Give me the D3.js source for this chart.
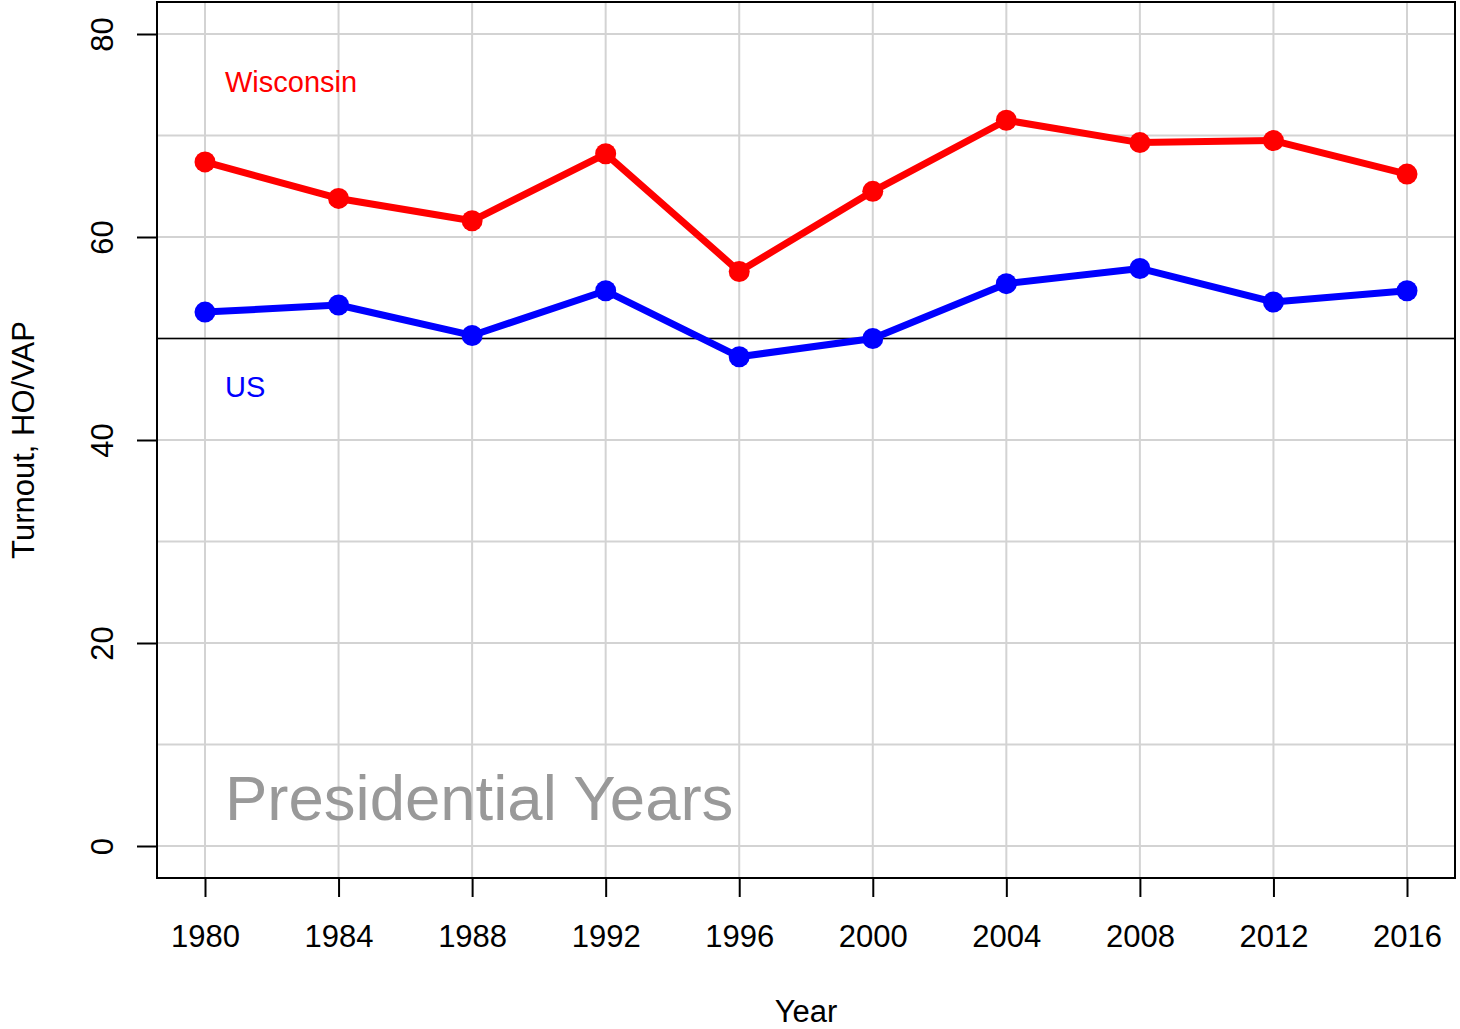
<!DOCTYPE html>
<html>
<head>
<meta charset="utf-8">
<script src="https://cdn.jsdelivr.net/npm/d3@7"></script>
<style>
  body { margin: 0; background: #fff; }
  text { font-family: "Liberation Sans", Arial, sans-serif; }
</style>
</head>
<body>
<svg id="chart"></svg>
<script>
var years = [1980, 1984, 1988, 1992, 1996, 2000, 2004, 2008, 2012, 2016];
var wisconsin = [67.4, 63.8, 61.6, 68.2, 56.6, 64.5, 71.5, 69.3, 69.5, 66.2];
var us = [52.6, 53.3, 50.3, 54.7, 48.2, 50.0, 55.4, 56.9, 53.6, 54.7];
var yTicks = [0, 20, 40, 60, 80];
var yGrid = [0, 10, 20, 30, 40, 50, 60, 70, 80];

var W = 1460, H = 1029;
var L = 157, R = 1455, T = 2, B = 878;

var svg = d3.select("#chart")
    .attr("width", W)
    .attr("height", H);

var x = d3.scaleLinear()
    .domain([1980, 2016])
    .range([205, 1407]);

var y = d3.scaleLinear()
    .domain([0, 80])
    .range([846, 34]);

// grid
svg.append("g").selectAll("line.vg")
    .data(years).enter().append("line")
    .attr("x1", d => x(d)).attr("x2", d => x(d))
    .attr("y1", T).attr("y2", B)
    .attr("stroke", "#d3d3d3").attr("stroke-width", 2);
svg.append("g").selectAll("line.hg")
    .data(yGrid).enter().append("line")
    .attr("x1", L).attr("x2", R)
    .attr("y1", d => y(d)).attr("y2", d => y(d))
    .attr("stroke", "#d3d3d3").attr("stroke-width", 2);

// reference line at 50
svg.append("line")
    .attr("x1", L).attr("x2", R)
    .attr("y1", y(50)).attr("y2", y(50))
    .attr("stroke", "#000").attr("stroke-width", 1.5);

// lines
var line = d3.line()
    .x((d, i) => x(years[i]))
    .y(d => y(d));

function series(vals, col) {
  svg.append("path")
      .datum(vals)
      .attr("d", line)
      .attr("fill", "none")
      .attr("stroke", col)
      .attr("stroke-width", 7)
      .attr("stroke-linejoin", "round");
  svg.append("g").selectAll("circle")
      .data(vals).enter().append("circle")
      .attr("cx", (d, i) => x(years[i]))
      .attr("cy", d => y(d))
      .attr("r", 10.5)
      .attr("fill", col);
}
series(wisconsin, "#ff0000");
series(us, "#0000ff");

// labels
svg.append("text")
    .attr("x", 225).attr("y", 92)
    .attr("font-size", 29).attr("fill", "#ff0000")
    .text("Wisconsin");
svg.append("text")
    .attr("x", 225).attr("y", 397)
    .attr("font-size", 29).attr("fill", "#0000ff")
    .text("US");
svg.append("text")
    .attr("x", 225).attr("y", 820)
    .attr("font-size", 63.5).attr("fill", "#999999")
    .text("Presidential Years");

// box
svg.append("rect")
    .attr("x", L).attr("y", T)
    .attr("width", R - L).attr("height", B - T)
    .attr("fill", "none").attr("stroke", "#000").attr("stroke-width", 2);

// x axis
var xAxis = d3.axisBottom(x)
    .tickValues(years)
    .tickFormat(d3.format("d"))
    .tickSize(19)
    .tickPadding(28);
var gx = svg.append("g")
    .attr("transform", "translate(0," + B + ")")
    .call(xAxis);
gx.select(".domain").remove();
gx.selectAll("line").attr("stroke-width", 2);
gx.selectAll("text").attr("font-size", 31).attr("font-family", "Liberation Sans, Arial, sans-serif");

// y axis
var yAxis = d3.axisLeft(y)
    .tickValues(yTicks)
    .tickSize(20)
    .tickPadding(0);
var gy = svg.append("g")
    .attr("transform", "translate(" + L + ",0)")
    .call(yAxis);
gy.select(".domain").remove();
gy.selectAll("line").attr("stroke-width", 2);
gy.selectAll("text")
    .attr("font-size", 31)
    .attr("font-family", "Liberation Sans, Arial, sans-serif")
    .attr("x", null).attr("dy", null)
    .attr("text-anchor", "middle")
    .attr("transform", "translate(-54,0) rotate(-90) translate(0,10)");

// axis titles
svg.append("text")
    .attr("x", x(1998)).attr("y", 1022)
    .attr("text-anchor", "middle")
    .attr("font-size", 31)
    .text("Year");
svg.append("text")
    .attr("transform", "translate(34," + y(40) + ") rotate(-90)")
    .attr("text-anchor", "middle")
    .attr("font-size", 31)
    .text("Turnout, HO/VAP");
</script>
</body>
</html>
